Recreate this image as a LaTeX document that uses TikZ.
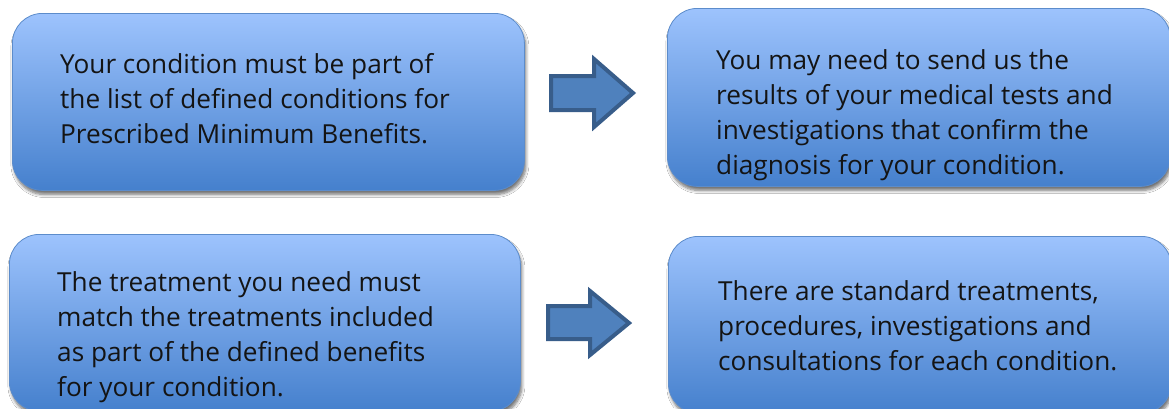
\documentclass[tikz,border=0pt]{standalone}
\usepackage{fontspec}
\setmainfont{Open Sans}
\usetikzlibrary{shadows.blur}
\definecolor{boxtop}{HTML}{9DC3FD}
\definecolor{boxbot}{HTML}{4580CD}
\definecolor{boxline}{HTML}{5C8CCB}
\definecolor{arrfill}{HTML}{4F81BD}
\definecolor{arrline}{HTML}{385D8A}
\definecolor{txt}{HTML}{141414}
\tikzset{
  bx/.style={rounded corners=30pt, top color=boxtop, bottom color=boxbot,
    draw=boxline, line width=0.8pt, anchor=north west, inner sep=0pt,
    blur shadow={shadow xshift=1.5pt, shadow yshift=-4pt, shadow blur steps=6,
      shadow blur radius=3pt, shadow opacity=55}},
  tx/.style={anchor=north west, align=left, inner sep=0pt, text=txt,
    font=\fontsize{26.2}{35}\selectfont},
  blk/.style={fill=arrfill, draw=arrline, line width=4pt, line join=miter}
}
\begin{document}
\begin{tikzpicture}[x=1pt,y=-1pt]
\useasboundingbox (0,0) rectangle (1169,408);
\clip (0,0) rectangle (1169,408);
\fill[white] (0,0) rectangle (1169,408);
% boxes
\node[bx, minimum width=512pt, minimum height=177pt] (b1) at (12,13) {};
\node[bx, minimum width=503pt, minimum height=178pt] (b2) at (667,8) {};
\node[bx, minimum width=511pt, minimum height=177pt] (b3) at (9,234) {};
\node[bx, minimum width=503pt, minimum height=177pt] (b4) at (668,236) {};
% texts
\node[tx] (t1) at (60,48.5) {\strut Your condition must be part of\\the list of defined conditions for\\Prescribed Minimum Benefits.};
\node[tx] (t2) at (716,44.5) {\strut You may need to send us the\\results of your medical tests and\\investigations that confirm the\\diagnosis for your condition.};
\node[tx] (t3) at (57,266.5) {\strut The treatment you need must\\match the treatments included\\as part of the defined benefits\\for your condition.};
\node[tx] (t4) at (718,275.5) {\strut There are standard treatments,\\procedures, investigations and\\consultations for each condition.};
% block arrows
\coordinate (a1) at (551,76);
\draw[blk] (a1) -- (594,76) -- (594,59) -- (633,93) -- (594,127) -- (594,110) -- (551,110) -- cycle;
\coordinate (a2) at (548,306);
\draw[blk] (a2) -- (590,306) -- (590,291) -- (629,323) -- (590,355) -- (590,339) -- (548,339) -- cycle;
\end{tikzpicture}
\end{document}
